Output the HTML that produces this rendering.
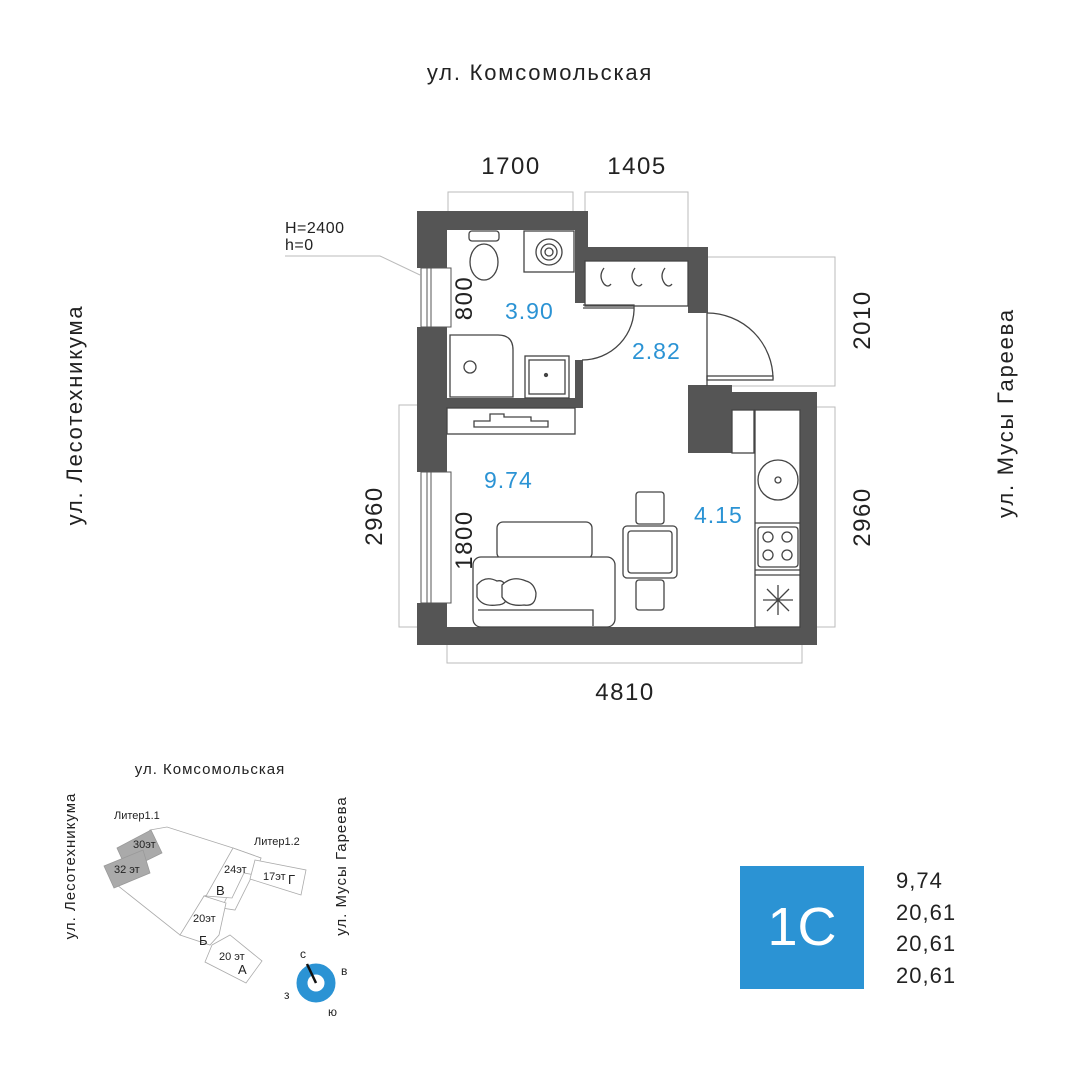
<!DOCTYPE html>
<html><head><meta charset="utf-8"><style>
html,body{margin:0;padding:0;background:#fff;}
svg{display:block;}
text{font-family:"Liberation Sans",sans-serif;}
</style></head><body>
<svg width="1080" height="1080" viewBox="0 0 1080 1080" xmlns="http://www.w3.org/2000/svg">
<rect width="1080" height="1080" fill="#fff"/>
<!-- street labels -->
<text x="540" y="80" font-size="22" letter-spacing="1.8" text-anchor="middle" fill="#222">ул. Комсомольская</text>
<text transform="translate(82,415) rotate(-90)" font-size="22" letter-spacing="1.8" text-anchor="middle" fill="#222">ул. Лесотехникума</text>
<text transform="translate(1013,413) rotate(-90)" font-size="22" letter-spacing="1.8" text-anchor="middle" fill="#222">ул. Мусы Гареева</text>

<!-- dimension lines -->
<g stroke="#bbb" stroke-width="1" fill="none">
<polyline points="448,211 448,192 573,192 573,211"/>
<polyline points="585,211 585,192 688,192 688,247"/>
<polyline points="707,257 835,257 835,386 707,386"/>
<polyline points="817,407 835,407 835,627 817,627"/>
<polyline points="417,405 399,405 399,627 417,627"/>
<polyline points="447,645 447,663 802,663 802,645"/>
<polyline points="285,256 380,256 420,275"/>
</g>
<g font-size="24" letter-spacing="1.5" fill="#222">
<text x="511" y="174" text-anchor="middle">1700</text>
<text x="637" y="174" text-anchor="middle">1405</text>
<text x="625" y="700" text-anchor="middle">4810</text>
<text transform="translate(870,320) rotate(-90)" text-anchor="middle">2010</text>
<text transform="translate(870,517) rotate(-90)" text-anchor="middle">2960</text>
<text transform="translate(382,516) rotate(-90)" text-anchor="middle">2960</text>
<text transform="translate(472,298) rotate(-90)" text-anchor="middle">800</text>
<text transform="translate(472,540) rotate(-90)" text-anchor="middle">1800</text>
</g>
<text x="285" y="233" font-size="16" letter-spacing="0.5" fill="#222">H=2400</text>
<text x="285" y="250" font-size="16" letter-spacing="0.5" fill="#222">h=0</text>

<!-- walls -->
<g fill="#555">
<rect x="417" y="211" width="171" height="19"/>
<rect x="417" y="211" width="30" height="57"/>
<rect x="417" y="327" width="30" height="145"/>
<rect x="417" y="603" width="30" height="42"/>
<rect x="417" y="627" width="400" height="18"/>
<rect x="800" y="392" width="17" height="253"/>
<rect x="688" y="392" width="129" height="18"/>
<rect x="688" y="385" width="44" height="68"/>
<rect x="575" y="211" width="13" height="92"/>
<rect x="575" y="360" width="8" height="48"/>
<rect x="417" y="398" width="166" height="10"/>
<rect x="583" y="247" width="125" height="14"/>
<rect x="688" y="247" width="20" height="66"/>
</g>
<!-- windows -->
<g stroke="#555" stroke-width="1" fill="#fff">
<rect x="421" y="268" width="30" height="59"/>
<line x1="427" y1="268" x2="427" y2="327"/><line x1="431" y1="268" x2="431" y2="327"/>
<rect x="421" y="472" width="30" height="131"/>
<line x1="427" y1="472" x2="427" y2="603"/><line x1="431" y1="472" x2="431" y2="603"/>
</g>
<!-- fixtures -->
<g stroke="#444" stroke-width="1.3" fill="#fff">
<rect x="469" y="231" width="30" height="10" rx="3"/>
<ellipse cx="484" cy="262" rx="14" ry="18"/>
<rect x="524" y="231" width="50" height="41" fill="none"/>
<circle cx="549" cy="252" r="13" fill="none"/><circle cx="549" cy="252" r="8" fill="none"/><circle cx="549" cy="252" r="4" fill="none"/>
<path d="M450,335 H498 Q513,335 513,350 V397 H450 Z"/>
<circle cx="470" cy="367" r="6"/>
<rect x="525" y="356" width="44" height="42" fill="none"/>
<rect x="529" y="360" width="36" height="34"/>
<circle cx="546" cy="375" r="1.5" fill="#444"/>
<rect x="585" y="261" width="103" height="45"/>
<path d="M604,268 q-6,8 0,16 q4,4 7,0 M635,268 q-6,8 0,16 q4,4 7,0 M665,268 q-6,8 0,16 q4,4 7,0" fill="none"/>
<rect x="447" y="408" width="128" height="26" fill="none"/>
<path d="M474,427 H548 V421 H531 V417 H504 V414 H490 V421 H474 Z"/>
<path d="M583,305 H634 A52,52 0 0 1 582,360" fill="none"/>
<line x1="583" y1="308" x2="634" y2="308"/>
<path d="M707,313 A66,66 0 0 1 773,379" fill="none"/>
<rect x="707" y="376" width="66" height="4"/>
<line x1="707" y1="313" x2="707" y2="386"/>
<rect x="732" y="410" width="22" height="43" fill="none"/>
<rect x="755" y="410" width="45" height="217" fill="none"/>
<circle cx="778" cy="480" r="20"/><circle cx="778" cy="480" r="3"/>
<line x1="755" y1="523" x2="800" y2="523"/>
<rect x="758" y="527" width="40" height="40" rx="3"/>
<circle cx="768" cy="537" r="5"/><circle cx="787" cy="537" r="5"/><circle cx="768" cy="555" r="5"/><circle cx="787" cy="555" r="5"/>
<line x1="755" y1="570" x2="800" y2="570"/>
<line x1="755" y1="575" x2="800" y2="575"/>
<path d="M778,585 V615 M763,600 H793 M767,589 L789,611 M789,589 L767,611" fill="none"/>
<rect x="636" y="492" width="28" height="32" rx="3"/>
<rect x="623" y="526" width="54" height="52" rx="4"/>
<rect x="628" y="531" width="44" height="42" rx="3"/>
<rect x="636" y="580" width="28" height="30" rx="3"/>
<rect x="497" y="522" width="95" height="37" rx="6"/>
<rect x="473" y="557" width="142" height="70" rx="8"/>
<path d="M478,610 H593 V626" fill="none"/>
<path d="M477,585 q8,-10 20,-4 q8,-2 10,10 q2,14 -10,14 q-15,2 -20,-8 Z"/>
<path d="M502,585 q10,-10 24,-4 q8,2 10,12 q0,14 -12,12 q-16,2 -22,-8 Z"/>
</g>
<!-- area labels -->
<g font-size="23" letter-spacing="1" fill="#2b93d4">
<text x="505" y="319">3.90</text>
<text x="632" y="359">2.82</text>
<text x="484" y="488">9.74</text>
<text x="694" y="523">4.15</text>
</g>

<!-- mini site plan -->
<text x="210" y="774" font-size="15" letter-spacing="1" text-anchor="middle" fill="#222">ул. Комсомольская</text>
<text transform="translate(75,866) rotate(-90)" font-size="15" letter-spacing="1" text-anchor="middle" fill="#222">ул. Лесотехникума</text>
<text transform="translate(346,866) rotate(-90)" font-size="15" letter-spacing="1" text-anchor="middle" fill="#222">ул. Мусы Гареева</text>
<g stroke="#aaa" stroke-width="0.8" fill="#fff">
<path d="M150,830 L167,827 L233,848 L261,858 L235,910 L222,908 L230,890 L204,896 L190,925 L180,935 L117,885 Z"/>
<path d="M233,848 L261,858 L255,875 L244,873 L232,898 L206,896 Z"/>
<path d="M255,860 L306,870 L301,895 L250,879 Z"/>
<path d="M204,896 L226,903 L219,935 L210,945 L180,935 Z"/>
<path d="M212,945 L230,935 L262,961 L246,983 L205,962 Z"/>
</g>
<g stroke="#999" stroke-width="0.8" fill="#aaa">
<path d="M117,848 L151,830 L162,853 L127,870 Z"/>
<path d="M104,866 L143,850 L150,873 L114,888 Z"/>
</g>
<g font-size="11" fill="#222">
<text x="114" y="819">Литер1.1</text>
<text x="254" y="845">Литер1.2</text>
<text x="133" y="848">30эт</text>
<text x="114" y="873">32 эт</text>
<text x="224" y="873">24эт</text>
<text x="263" y="880">17эт</text>
<text x="288" y="884" font-size="13">Г</text>
<text x="216" y="895" font-size="13">В</text>
<text x="193" y="922">20эт</text>
<text x="199" y="945" font-size="13">Б</text>
<text x="219" y="960">20 эт</text>
<text x="238" y="974" font-size="13">А</text>
</g>
<circle cx="316" cy="983" r="14" fill="none" stroke="#2b93d4" stroke-width="11"/>
<line x1="316" y1="983" x2="307" y2="964" stroke="#111" stroke-width="2.5"/>
<g font-size="12" fill="#222">
<text x="300" y="958">с</text><text x="341" y="975">в</text><text x="284" y="999">з</text><text x="328" y="1016">ю</text>
</g>

<!-- legend -->
<rect x="740" y="866" width="124" height="123" fill="#2b93d4"/>
<text x="802" y="945" font-size="54" text-anchor="middle" fill="#fff">1С</text>
<g font-size="22" letter-spacing="1" fill="#222">
<text x="896" y="888">9,74</text>
<text x="896" y="920">20,61</text>
<text x="896" y="951">20,61</text>
<text x="896" y="983">20,61</text>
</g>
</svg>
</body></html>
